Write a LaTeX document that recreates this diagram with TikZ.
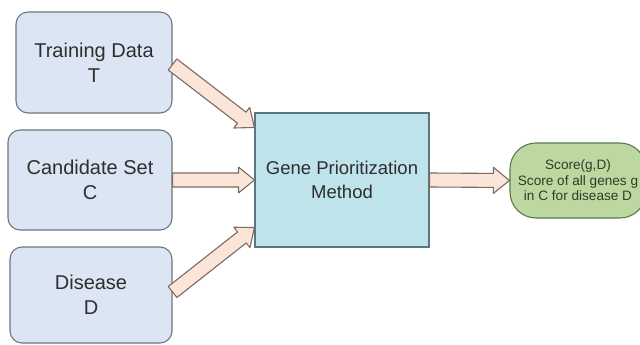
\documentclass[tikz,border=0pt]{standalone}
\usepackage{fontspec}
\setmainfont{Liberation Sans}
\usetikzlibrary{calc}

\definecolor{infill}{HTML}{DCE5F3}
\definecolor{inedge}{HTML}{6E7680}
\definecolor{mfill}{HTML}{BEE3EB}
\definecolor{medge}{HTML}{5B7585}
\definecolor{ofill}{HTML}{BCD8A0}
\definecolor{oedge}{HTML}{5C7A4E}
\definecolor{afill}{HTML}{FAE5D8}
\definecolor{aedge}{HTML}{7E6A60}
\definecolor{txt}{HTML}{2E2E2E}
\definecolor{otxt}{HTML}{2F3D28}

\tikzset{
  inputbox/.style={draw=inedge, fill=infill, rounded corners=12pt, line width=1.1pt,
    align=center, text=txt, inner sep=0pt, font=\fontsize{20}{25}\selectfont},
  methodbox/.style={draw=medge, fill=mfill, line width=1.1pt, minimum width=174pt,
    minimum height=134pt, align=center, text=txt, inner sep=0pt,
    font=\fontsize{18.5}{24}\selectfont},
  resultbox/.style={draw=oedge, fill=ofill, rounded corners=26pt, line width=1.1pt,
    minimum width=136pt, minimum height=75pt, align=center, text=otxt, inner sep=0pt,
    font=\fontsize{13.6}{15.5}\selectfont},
  fatarrowstyle/.style={draw=aedge, fill=afill, line width=1.1pt, line join=round}
}

% hollow block arrow between two points
\newcommand\fatarrow[2]{%
  \coordinate (fa-s) at #1;
  \coordinate (fa-e) at #2;
  \coordinate (fa-h) at ($(fa-e)!16pt!(fa-s)$);
  \draw[fatarrowstyle]
    ($(fa-s)!7pt!90:(fa-e)$) -- ($(fa-h)!7pt!90:(fa-e)$) --
    ($(fa-h)!13pt!90:(fa-e)$) -- (fa-e) --
    ($(fa-h)!13pt!-90:(fa-e)$) -- ($(fa-h)!7pt!-90:(fa-e)$) --
    ($(fa-s)!7pt!-90:(fa-e)$) -- cycle;
}

\begin{document}
\begin{tikzpicture}[x=1pt, y=-1pt]
  \useasboundingbox (0,0) rectangle (640,345);
  \clip (0,0) rectangle (640,345);
  \fill[white] (0,0) rectangle (640,345);

  \node[inputbox, minimum width=156pt, minimum height=101pt] (T) at (94,62.5)
    {Training Data\\T};
  \node[inputbox, minimum width=164pt, minimum height=100pt] (C) at (90,180)
    {Candidate Set\\C};
  \node[inputbox, minimum width=162pt, minimum height=96pt] (D) at (91,295)
    {Disease\\D};
  \node[methodbox] (M) at (342,180) {Gene Prioritization\\Method};
  \node[resultbox] (O) at (578,180.5)
    {Score(g,D)\\Score of all genes g\\in C for disease D};

  \coordinate (tin) at ($(M.north west)+(0,15)$);
  \coordinate (din) at ($(M.south west)+(0,-20)$);
  \coordinate (tout) at ($(T.east)+(0,2)$);
  \coordinate (dout) at ($(D.east)+(0,-3)$);

  \fatarrow{(tout)}{(tin)}
  \fatarrow{(C.east)}{(M.west)}
  \fatarrow{(dout)}{(din)}
  \fatarrow{(M.east)}{(O.west)}
\end{tikzpicture}
\end{document}
